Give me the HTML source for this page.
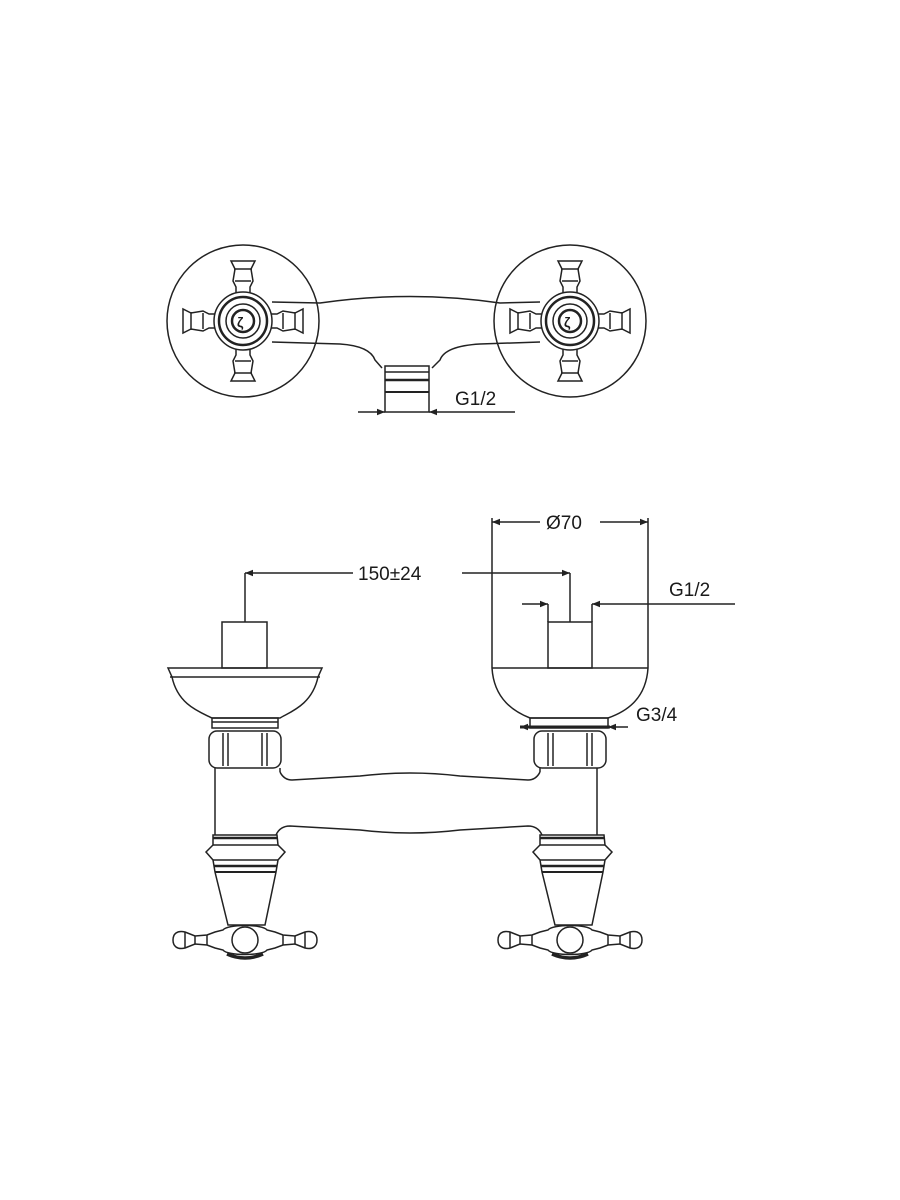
<!DOCTYPE html>
<html><head><meta charset="utf-8"><style>
html,body{margin:0;padding:0;background:#fff;width:900px;height:1200px;overflow:hidden}
svg{display:block}
text{font-family:"Liberation Sans",sans-serif;font-size:19px;fill:#1a1a1a}
</style></head><body>
<svg width="900" height="1200" viewBox="0 0 900 1200" fill="none" stroke="#222" stroke-width="1.5">
<defs>
<g id="arm">
  <path d="M-7,-24 L-7,-34 L-10,-40 L-8,-52 L-12,-60 L12,-60 L8,-52 L10,-40 L7,-34 L7,-24" fill="#fff"/>
  <line x1="-8" y1="-40" x2="8" y2="-40"/><line x1="-9" y1="-52" x2="9" y2="-52"/>
</g>
<g id="handle">
  <use href="#arm"/><use href="#arm" transform="rotate(90)"/><use href="#arm" transform="rotate(180)"/><use href="#arm" transform="rotate(270)"/>
  <circle r="29" fill="#fff"/><circle r="24" stroke-width="2.5"/><circle r="17"/><circle r="11" stroke-width="2.5"/>
  <text x="-6" y="6" style="font-size:14px;font-weight:bold" stroke="none">&#x03B6;</text>
</g>
<marker id="ar" viewBox="0 0 10 10" refX="10" refY="5" markerWidth="10" markerHeight="8" orient="auto-start-reverse" markerUnits="userSpaceOnUse"><path d="M0,1 L10,5 L0,9 z" fill="#222" stroke="none"/></marker>
<g id="bhandle">
  <path d="M-60,-8 C-68,-10 -72,-6 -72,0 C-72,6 -68,10 -60,8 L-50,4 L-38,5 L-30,8 L-22,10 C-18,16 18,16 22,10 L30,8 L38,5 L50,4 L60,8 C68,10 72,6 72,0 C72,-6 68,-10 60,-8 L50,-4 L38,-5 L30,-8 L22,-10 C18,-16 -18,-16 -22,-10 L-30,-8 L-38,-5 L-50,-4 Z" fill="#fff"/>
  <line x1="-50" y1="-4" x2="-50" y2="4"/><line x1="-38" y1="-5" x2="-38" y2="5"/><line x1="-60" y1="-8" x2="-60" y2="8"/>
  <line x1="50" y1="-4" x2="50" y2="4"/><line x1="38" y1="-5" x2="38" y2="5"/><line x1="60" y1="-8" x2="60" y2="8"/>
  <circle r="13"/>
  <path d="M-18,14 Q0,22 18,14" stroke-width="3.5"/>
</g>
</defs>

<!-- TOP VIEW -->
<circle cx="243" cy="321" r="76"/>
<circle cx="570" cy="321" r="76"/>
<path d="M272,302 L320,303 Q410,290 500,303 L540,302"/>
<path d="M272,342 L340,344 Q370,346 375,360 L382,368 M432,368 L440,360 Q445,346 480,344 L540,342"/>
<rect x="385" y="366" width="44" height="46" fill="#fff"/>
<line x1="385" y1="372" x2="429" y2="372"/><line x1="385" y1="380" x2="429" y2="380" stroke-width="2.5"/><line x1="385" y1="392" x2="429" y2="392" stroke-width="2"/>
<line x1="358" y1="412" x2="385" y2="412" marker-end="url(#ar)"/>
<line x1="429" y1="412" x2="515" y2="412" marker-start="url(#ar)"/>
<text x="455" y="405" stroke="none">G1/2</text>
<use href="#handle" x="243" y="321"/>
<use href="#handle" x="570" y="321"/>

<!-- FRONT VIEW -->
<line x1="492" y1="518" x2="492" y2="668"/><line x1="648" y1="518" x2="648" y2="668"/>
<line x1="492" y1="522" x2="540" y2="522" marker-start="url(#ar)"/>
<line x1="600" y1="522" x2="648" y2="522" marker-end="url(#ar)"/>
<text x="546" y="529" stroke="none">Ø70</text>
<line x1="245" y1="573" x2="245" y2="622"/><line x1="570" y1="573" x2="570" y2="622"/>
<line x1="245" y1="573" x2="353" y2="573" marker-start="url(#ar)"/>
<line x1="462" y1="573" x2="570" y2="573" marker-end="url(#ar)"/>
<text x="358" y="580" stroke="none">150±24</text>
<line x1="548" y1="604" x2="548" y2="622"/><line x1="592" y1="604" x2="592" y2="622"/>
<line x1="522" y1="604" x2="548" y2="604" marker-end="url(#ar)"/>
<line x1="592" y1="604" x2="735" y2="604" marker-start="url(#ar)"/>
<text x="669" y="596" stroke="none">G1/2</text>
<line x1="520" y1="727" x2="610" y2="727" stroke-width="3"/>
<line x1="520" y1="727" x2="540" y2="727" marker-start="url(#ar)"/>
<line x1="608" y1="727" x2="628" y2="727" marker-start="url(#ar)"/>
<text x="636" y="721" stroke="none">G3/4</text>

<!-- left assembly -->
<rect x="222" y="622" width="45" height="46"/>
<path d="M168,668 L322,668 L318,677 C312,705 290,712 280,718 L212,718 C200,712 178,705 172,677 Z"/>
<line x1="170" y1="677" x2="320" y2="677"/>
<rect x="212" y="718" width="66" height="10"/>
<line x1="212" y1="722" x2="278" y2="722"/>
<rect x="209" y="731" width="72" height="37" rx="8"/>
<line x1="223" y1="733" x2="223" y2="766"/><line x1="228" y1="733" x2="228" y2="766"/>
<line x1="262" y1="733" x2="262" y2="766"/><line x1="267" y1="733" x2="267" y2="766"/>
<!-- right assembly -->
<rect x="548" y="622" width="44" height="46"/>
<path d="M492,668 C494,700 515,712 530,718 L608,718 C625,712 646,700 648,668"/>
<line x1="492" y1="668" x2="648" y2="668"/>
<rect x="530" y="718" width="78" height="10"/>
<rect x="534" y="731" width="72" height="37" rx="8"/>
<line x1="548" y1="733" x2="548" y2="766"/><line x1="553" y1="733" x2="553" y2="766"/>
<line x1="587" y1="733" x2="587" y2="766"/><line x1="592" y1="733" x2="592" y2="766"/>

<!-- body -->
<line x1="215" y1="768" x2="215" y2="835"/><line x1="280" y1="768" x2="280" y2="772"/>
<line x1="540" y1="768" x2="540" y2="772"/><line x1="597" y1="768" x2="597" y2="835"/>
<path d="M280,772 Q284,780 292,780 L360,776 Q410,770 460,776 L528,780 Q536,780 540,772"/>
<path d="M276,835 Q280,826 290,826 L360,830 Q410,836 460,830 L528,826 Q538,826 542,835"/>

<g>
<path d="M213,835 L277,835 L278,845 L285,852 L278,860 L276,872 L265,925 L228,925 L215,872 L213,860 L206,852 L213,845 Z" fill="#fff"/>
<line x1="213" y1="838" x2="277" y2="838" stroke-width="2.5"/><line x1="213" y1="845" x2="278" y2="845"/>
<line x1="213" y1="860" x2="278" y2="860"/><line x1="214" y1="866" x2="277" y2="866" stroke-width="2.5"/><line x1="215" y1="872" x2="276" y2="872" stroke-width="2"/>
</g>
<use href="#bhandle" x="245" y="940"/>
<g transform="translate(327,0)">
<path d="M213,835 L277,835 L278,845 L285,852 L278,860 L276,872 L265,925 L228,925 L215,872 L213,860 L206,852 L213,845 Z" fill="#fff"/>
<line x1="213" y1="838" x2="277" y2="838" stroke-width="2.5"/><line x1="213" y1="845" x2="278" y2="845"/>
<line x1="213" y1="860" x2="278" y2="860"/><line x1="214" y1="866" x2="277" y2="866" stroke-width="2.5"/><line x1="215" y1="872" x2="276" y2="872" stroke-width="2"/>
</g>
<use href="#bhandle" x="570" y="940"/>
</svg>
</body></html>
